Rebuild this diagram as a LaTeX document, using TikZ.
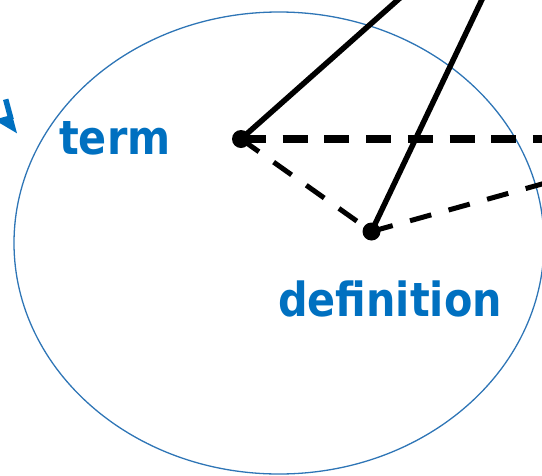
\documentclass[tikz,border=0pt]{standalone}
\usepackage{fontspec}
\setsansfont{DejaVu Sans}[FakeStretch=0.88]
\usetikzlibrary{arrows.meta}
\definecolor{termblue}{HTML}{0070C0}
\definecolor{ringblue}{HTML}{2E75B6}

\begin{document}
\begin{tikzpicture}[
  x=1pt, y=-1pt,
  font=\sffamily\bfseries\fontsize{47pt}{56pt}\selectfont,
  wordlabel/.style={
    text=termblue,
    inner sep=0pt,
    anchor=base west
  },
  vertex/.style={
    circle,
    fill=black,
    inner sep=0pt,
    minimum size=18pt
  },
  rod/.style={
    line width=5.5pt,
    draw=black
  },
  foldline/.style={
    line width=8pt,
    draw=black,
    dash pattern=on 25pt off 16.7pt
  },
  hingeline/.style={
    line width=5pt,
    draw=black,
    dash pattern=on 22pt off 18pt
  }
]
  \useasboundingbox (0,0) rectangle (542,475);
  \clip (0,0) rectangle (542,475);

  % Outer ring
  \draw[ringblue, line width=1.3pt] (279,243) ellipse [x radius=265pt, y radius=231pt];

  % Labels
  \node[wordlabel] (term) at (59,154) {term};
  \node[wordlabel] (definition) at (278,316) {definition};

  % Vertices
  \node[vertex] (tdot) at (241,139) {};
  \node[vertex] (ddot) at (371.5,231.5) {};

  % Free ends beyond the frame
  \coordinate (rodA) at (409,-10);
  \coordinate (rodB) at (486.5,-10);
  \coordinate (foldend) at (552,139);
  \coordinate (hingeend) at (552,181.2);
  \coordinate (cue) at (5.7,99.3);
  \coordinate (cuetip) at (15,134);

  % Connecting lines
  \draw[rod] (tdot.center) -- (rodA);
  \draw[rod] (ddot.center) -- (rodB);
  \draw[foldline] (tdot.center) -- (foldend);
  \draw[hingeline] (tdot.center) -- (ddot.center);
  \draw[hingeline] (ddot.center) -- (hingeend);

  % Blue pointer at the left edge
  \draw[termblue, line width=5.5pt, -{Triangle[length=17pt,width=32pt,right]}] (cue) -- (cuetip);

\end{tikzpicture}
\end{document}
